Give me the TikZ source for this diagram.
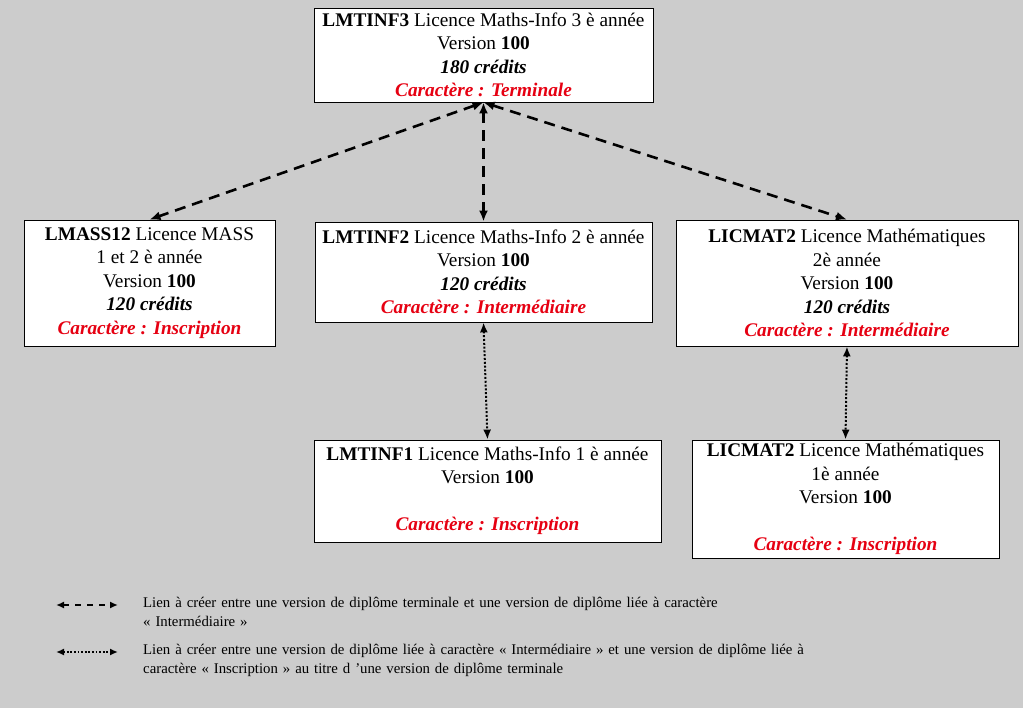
\documentclass[tikz,border=0pt]{standalone}
\usepackage{fontspec}
\setmainfont{Liberation Serif}
\usepackage{xcolor}
\usetikzlibrary{arrows.meta,positioning}
\definecolor{bggray}{RGB}{204,204,204}
\definecolor{carred}{RGB}{230,0,18}
\tikzset{
  diplome/.style={draw=black,fill=white,line width=0.8pt,align=center,inner sep=0pt,
    font=\fontsize{19.3}{23.5}\selectfont},
  lienterm/.style={{Latex[length=11pt,width=9pt]}-{Latex[length=11pt,width=9pt]},
    line width=2.6pt,dash pattern=on 11pt off 7pt},
  lieninscr/.style={{Latex[length=10pt,width=8pt]}-{Latex[length=10pt,width=8pt]},
    line width=2pt,dash pattern=on 2pt off 1.8pt},
  legterm/.style={{Latex[length=8pt,width=7pt]}-{Latex[length=8pt,width=7pt]},
    line width=2.2pt,dash pattern=on 6pt off 6pt},
  leginscr/.style={{Latex[length=8pt,width=7pt]}-{Latex[length=8pt,width=7pt]},
    line width=2pt,dash pattern=on 1.8pt off 1.8pt},
  legende/.style={anchor=north west,inner sep=0pt,align=left,text width=760pt,
    font=\fontsize{14.8}{19}\selectfont}
}
\newcommand{\caract}[1]{\textcolor{carred}{\textbf{\textit{Caractère : #1}}}}
\newcommand{\credits}[1]{\textbf{\textit{#1 crédits}}}

\begin{document}
\begin{tikzpicture}[x=1pt,y=-1pt]
  % Background
  \fill[bggray] (0,0) rectangle (1023,708);
  \useasboundingbox (0,0) rectangle (1023,708);

  % Boxes
  \node[diplome,minimum width=339pt,minimum height=94pt] (lmtinf3) at (483.5,55)
    {\textbf{LMTINF3} Licence Maths-Info 3 è année\\ Version \textbf{100}\\ \credits{180}\\ \caract{Terminale}};
  \node[diplome,minimum width=251pt,minimum height=126pt] (lmass12) at (149.5,283)
    {\textbf{LMASS12} Licence MASS\\ 1 et 2 è année\\ Version \textbf{100}\\ \credits{120}\\ \caract{Inscription}};
  \node[diplome,minimum width=337pt,minimum height=100pt] (lmtinf2) at (483.5,272)
    {\textbf{LMTINF2} Licence Maths-Info 2 è année\\ Version \textbf{100}\\ \credits{120}\\ \caract{Intermédiaire}};
  \node[diplome,minimum width=342pt,minimum height=126pt] (licmat2) at (847,283)
    {\textbf{LICMAT2} Licence Mathématiques\\ 2è année\\ Version \textbf{100}\\ \credits{120}\\ \caract{Intermédiaire}};
  \node[diplome,minimum width=347pt,minimum height=102pt] (lmtinf1) at (487.5,491)
    {\textbf{LMTINF1} Licence Maths-Info 1 è année\\ Version \textbf{100}\\ \mbox{}\\ \caract{Inscription}};
  \node[diplome,minimum width=307pt,minimum height=118pt] (licmat1) at (845.5,499)
    {\textbf{LICMAT2} Licence Mathématiques\\ 1è année\\ Version \textbf{100}\\ \mbox{}\\ \caract{Inscription}};

  % Links
  \draw[lienterm] (lmtinf3.south) -- (lmass12.north);
  \draw[lienterm] (lmtinf3.south) -- (lmtinf2.north);
  \draw[lienterm] (lmtinf3.south) -- (licmat2.north);
  \draw[lieninscr] (lmtinf2.south) -- (lmtinf1.north);
  \draw[lieninscr] (licmat2.south) -- (licmat1.north);

  % Legend
  \coordinate (l1a) at (56,605);
  \coordinate (l1b) at (118,605);
  \coordinate (l2a) at (56,652);
  \coordinate (l2b) at (118,652);
  \draw[legterm] (l1a) -- (l1b);
  \draw[leginscr] (l2a) -- (l2b);
  \node[legende] (leg1) at (143,597)
    {Lien à créer entre une version de diplôme terminale et une version de diplôme liée à caractère\\
     « Intermédiaire »};
  \node[legende] (leg2) at (143,644)
    {Lien à créer entre une version de diplôme liée à caractère « Intermédiaire » et une version de diplôme liée à\\
     caractère « Inscription » au titre d ’une version de diplôme terminale};
\end{tikzpicture}
\end{document}
